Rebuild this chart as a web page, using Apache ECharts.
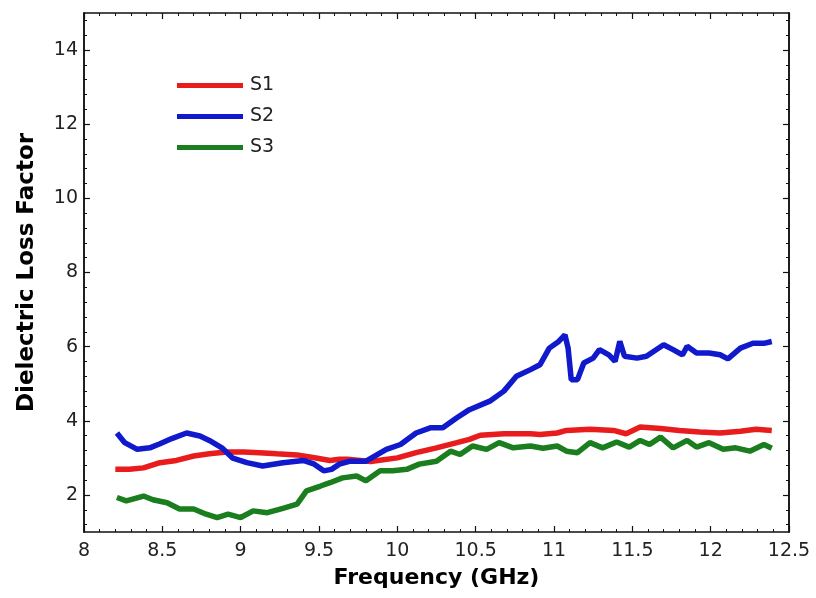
<!DOCTYPE html>
<html><head><meta charset="utf-8">
<script src="https://cdn.jsdelivr.net/npm/echarts@6/dist/echarts.min.js"></script>
<style>html,body{margin:0;padding:0;background:#fff}#c{width:816px;height:598px}</style>
</head><body><div id="c"></div>
<script>
// ---- data ----
const seriesNames = ['S1', 'S2', 'S3'];
const s1Freq = [8.20,8.29,8.38,8.485,8.59,8.70,8.80,8.91,9.02,9.12,9.23,9.36,9.49,9.57,9.63,9.68,9.83,10.00,10.12,10.25,10.38,10.46,10.53,10.68,10.85,10.91,11.02,11.08,11.23,11.38,11.46,11.55,11.68,11.80,11.93,12.06,12.19,12.29,12.39];
const s1Vals = [2.69,2.69,2.73,2.87,2.93,3.05,3.11,3.16,3.16,3.14,3.11,3.08,2.99,2.93,2.96,2.96,2.90,3.00,3.14,3.27,3.41,3.50,3.61,3.65,3.65,3.63,3.67,3.74,3.77,3.74,3.65,3.83,3.79,3.74,3.70,3.67,3.72,3.77,3.74];
const s2Freq = [8.21,8.26,8.34,8.42,8.485,8.56,8.655,8.74,8.80,8.88,8.95,9.04,9.14,9.27,9.40,9.47,9.53,9.58,9.63,9.70,9.80,9.93,10.02,10.12,10.21,10.29,10.38,10.46,10.59,10.68,10.76,10.85,10.91,10.97,11.03,11.07,11.09,11.11,11.15,11.19,11.25,11.29,11.35,11.39,11.42,11.45,11.53,11.59,11.70,11.76,11.82,11.85,11.91,11.99,12.06,12.11,12.19,12.27,12.34,12.39];
const s2Vals = [3.67,3.41,3.23,3.27,3.38,3.52,3.67,3.59,3.47,3.27,2.99,2.87,2.78,2.87,2.93,2.83,2.65,2.69,2.83,2.91,2.91,3.23,3.36,3.67,3.81,3.81,4.08,4.30,4.53,4.80,5.20,5.38,5.51,5.96,6.14,6.32,5.96,5.11,5.11,5.56,5.69,5.92,5.78,5.60,6.14,5.74,5.69,5.74,6.05,5.92,5.78,6.01,5.83,5.83,5.78,5.67,5.96,6.09,6.09,6.14];
const s3Freq = [8.21,8.27,8.38,8.44,8.53,8.61,8.70,8.78,8.85,8.92,9.00,9.08,9.17,9.27,9.36,9.42,9.51,9.57,9.65,9.74,9.80,9.89,9.97,10.06,10.14,10.25,10.34,10.40,10.48,10.57,10.65,10.74,10.85,10.93,11.02,11.08,11.15,11.23,11.31,11.40,11.48,11.55,11.61,11.68,11.76,11.85,11.91,11.99,12.08,12.16,12.25,12.34,12.39];
const s3Vals = [1.93,1.84,1.97,1.87,1.79,1.62,1.62,1.48,1.39,1.48,1.39,1.57,1.52,1.64,1.75,2.11,2.24,2.33,2.46,2.51,2.38,2.65,2.65,2.69,2.83,2.91,3.18,3.09,3.32,3.23,3.41,3.27,3.32,3.26,3.32,3.18,3.14,3.41,3.27,3.43,3.29,3.47,3.36,3.56,3.27,3.47,3.29,3.41,3.23,3.27,3.18,3.36,3.26];
const yMajorTicks = [2,4,6,8,10,12,14];
const yMinorTicks = [1.2,1.6,2.4,2.8,3.2,3.6,4.4,4.8,5.2,5.6,6.4,6.8,7.2,7.6,8.4,8.8,9.2,9.6,10.4,10.8,11.2,11.6,12.4,12.8,13.2,13.6,14.4,14.8];
const xTitle = 'Frequency (GHz)';
const yTitle = 'Dielectric Loss Factor';
const colors = ['#e81c1c', '#1019cc', '#1a7d1e'];

const zip = (a, b) => a.map((x, i) => [x, b[i]]);
const font = 'DejaVu Sans, sans-serif';
const lineC = '#111';

const xBase = {
  type: 'value', min: 8, max: 12.5, interval: 0.5,
  axisLine: { show: true, onZero: false, lineStyle: { color: lineC, width: 1.5 } },
  axisTick: { show: true, inside: true, length: 6, lineStyle: { color: lineC, width: 1.2 } },
  minorTick: { show: true, splitNumber: 5, length: 3, lineStyle: { color: lineC, width: 1 } },
  splitLine: { show: false }, minorSplitLine: { show: false }
};
const yBase = (pos, vals, len, labels) => ({
  type: 'value', min: 1, max: 15, position: pos,
  axisLine: { show: true, onZero: false, lineStyle: { color: lineC, width: 1.5 } },
  axisTick: { show: true, inside: true, length: len, customValues: vals, lineStyle: { color: lineC, width: len > 4 ? 1.2 : 1 } },
  axisLabel: labels ? { show: true, customValues: vals, margin: 6, fontFamily: font, fontSize: 19, color: '#222' } : { show: false },
  splitLine: { show: false }
});

const yAxes = [
  Object.assign(yBase('left', yMajorTicks, 6, true), {
    name: yTitle, nameLocation: 'middle', nameGap: 45,
    nameTextStyle: { fontFamily: font, fontSize: 23, fontWeight: 'bold', color: '#000' }
  }),
  yBase('left', yMinorTicks, 3, false),
  yBase('right', yMajorTicks, 6, false),
  yBase('right', yMinorTicks, 3, false)
];

const chart = echarts.init(document.getElementById('c'), null, { renderer: 'canvas' });
chart.setOption({
  animation: false,
  backgroundColor: '#fff',
  grid: { left: 84, right: 27, top: 13, bottom: 66, containLabel: false },
  legend: {
    orient: 'vertical', left: 172, top: 71, itemWidth: 66, itemHeight: 5, itemGap: 12,
    icon: 'rect', data: seriesNames,
    textStyle: { fontFamily: font, fontSize: 19, color: '#222', padding: [0, 0, 0, 2] }
  },
  xAxis: [
    Object.assign({}, xBase, {
      position: 'bottom',
      axisLabel: { show: true, margin: 10, fontFamily: font, fontSize: 19, color: '#222' },
      name: xTitle, nameLocation: 'middle', nameGap: 35,
      nameTextStyle: { fontFamily: font, fontSize: 22, fontWeight: 'bold', color: '#000' }
    }),
    Object.assign({}, xBase, { position: 'top', axisLabel: { show: false } })
  ],
  yAxis: yAxes,
  series: [
    { name: seriesNames[0], data: zip(s1Freq, s1Vals) },
    { name: seriesNames[1], data: zip(s2Freq, s2Vals) },
    { name: seriesNames[2], data: zip(s3Freq, s3Vals) }
  ].map((s, i) => Object.assign(s, {
    type: 'line', xAxisIndex: 0, yAxisIndex: 0, showSymbol: false, symbol: 'none',
    color: colors[i], lineStyle: { width: 5.5, color: colors[i] }
  }))
});
</script></body></html>
